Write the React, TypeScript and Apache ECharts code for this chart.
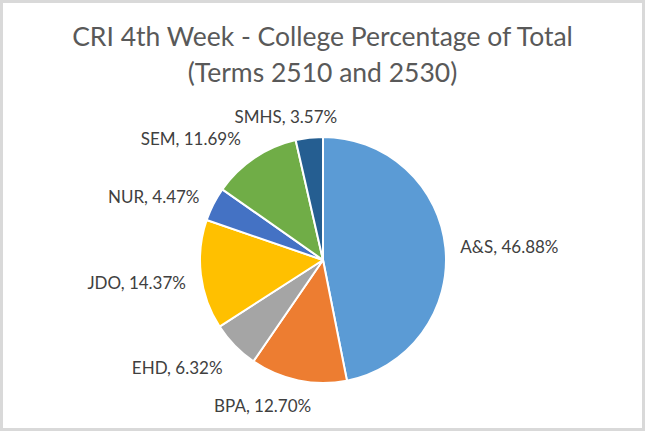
import React, { useEffect, useRef } from "react";
import * as echarts from "echarts";

const categories = ["A&S", "BPA", "EHD", "JDO", "NUR", "SEM", "SMHS"];
const values = [46.88, 12.7, 6.32, 14.37, 4.47, 11.69, 3.57];
const colors = ["#5B9BD5", "#ED7D31", "#A5A5A5", "#FFC000", "#4472C4", "#70AD47", "#255E91"];
const titleLines = ["CRI 4th Week - College Percentage of Total", "(Terms 2510 and 2530)"];
// small nudges (px) applied to the library-computed label positions
const labelNudgeX = [0, 20, 0, 0, 0, -3, 34];
const labelNudgeY = [0, 15, 15, 7, -3, -11, -11];

export default function App() {
  const ref = useRef<HTMLDivElement>(null);
  useEffect(() => {
    if (!ref.current) return;
    const chart = echarts.init(ref.current, undefined, { renderer: "svg" });
    chart.setOption({
      animation: false,
      backgroundColor: "#ffffff",
      title: {
        text: titleLines.join("\n"),
        left: "center",
        top: 13,
        textStyle: {
          fontFamily: "Lato",
          fontWeight: "normal",
          fontSize: 26.5,
          lineHeight: 36,
          color: "#595959",
        },
      },
      graphic: [
        {
          type: "rect",
          shape: { x: 1.5, y: 1.5, width: 642, height: 428 },
          style: { fill: "none", stroke: "#D9D9D9", lineWidth: 3 },
          silent: true,
        },
      ],
      series: [
        {
          type: "pie",
          center: [323, 260],
          radius: 123,
          startAngle: 90,
          clockwise: true,
          itemStyle: { borderColor: "#ffffff", borderWidth: 2 },
          label: {
            show: true,
            position: "outside",
            formatter: (p: any) => `${p.name}, ${p.value.toFixed(2)}%`,
            fontFamily: "Lato",
            fontSize: 17,
            color: "#404040",
          },
          labelLine: { show: false, length: 10, length2: 0 },
          labelLayout: (params: any) => ({
            dx: labelNudgeX[params.dataIndex] || 0,
            dy: labelNudgeY[params.dataIndex] || 0,
          }),
          data: categories.map((c, i) => ({
            name: c,
            value: values[i],
            itemStyle: { color: colors[i] },
          })),
        },
      ],
    });
    return () => chart.dispose();
  }, []);
  return (
    <div
      ref={ref}
      style={{ position: "fixed", left: 0, top: 0, width: 645, height: 431 }}
    />
  );
}
